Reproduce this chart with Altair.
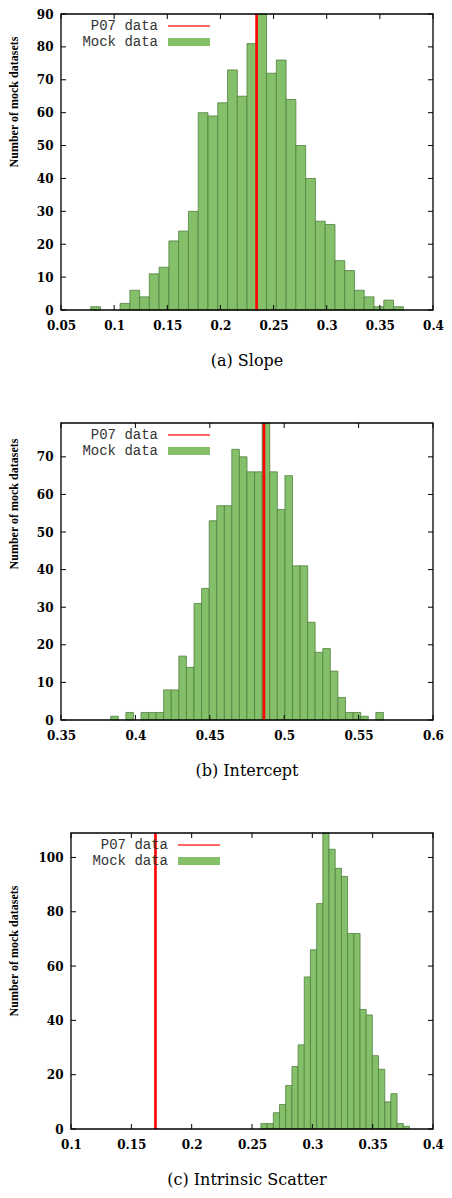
import altair as alt
import pandas as pd

# ---------------- data ----------------
# (a) Slope : left edges of histogram bins and counts
slope_lo = [0.0780, 0.1056, 0.1148, 0.1240, 0.1331, 0.1423, 0.1515, 0.1607,
            0.1699, 0.1791, 0.1883, 0.1975, 0.2067, 0.2159, 0.2250, 0.2342,
            0.2434, 0.2526, 0.2618, 0.2710, 0.2802, 0.2894, 0.2986, 0.3078,
            0.3169, 0.3261, 0.3353, 0.3445, 0.3537, 0.3629]
slope_n = [1, 2, 6, 4, 11, 13, 21, 24, 30, 60, 59, 63, 73, 65, 81, 90,
           72, 76, 64, 50, 40, 27, 26, 15, 12, 6, 4, 1, 3, 1]
slope_binw = 0.00919
slope_p07 = 0.234
slope_xticks = [0.05, 0.1, 0.15, 0.2, 0.25, 0.3, 0.35, 0.4]
slope_yticks = [0, 10, 20, 30, 40, 50, 60, 70, 80, 90]

# (b) Intercept
icpt_lo = [0.3834, 0.3936, 0.4038, 0.4089, 0.4139, 0.4190, 0.4241, 0.4292,
           0.4343, 0.4394, 0.4445, 0.4496, 0.4547, 0.4598, 0.4648, 0.4699,
           0.4750, 0.4801, 0.4852, 0.4903, 0.4954, 0.5005, 0.5056, 0.5107,
           0.5157, 0.5208, 0.5259, 0.5310, 0.5361, 0.5412, 0.5463, 0.5514,
           0.5616]
icpt_n = [1, 2, 2, 2, 2, 8, 8, 17, 14, 31, 35, 53, 57, 57, 72, 70, 66, 66,
          79, 66, 56, 65, 41, 41, 26, 18, 19, 13, 6, 2, 2, 1, 2]
icpt_binw = 0.00509
icpt_p07 = 0.4864
icpt_xticks = [0.35, 0.4, 0.45, 0.5, 0.55, 0.6]
icpt_yticks = [0, 10, 20, 30, 40, 50, 60, 70]

# (c) Intrinsic scatter
scat_lo = [0.2574, 0.2625, 0.2677, 0.2728, 0.2779, 0.2831, 0.2882, 0.2933,
           0.2984, 0.3036, 0.3087, 0.3138, 0.3190, 0.3241, 0.3292, 0.3344,
           0.3395, 0.3446, 0.3497, 0.3549, 0.3600, 0.3651, 0.3703, 0.3754]
scat_n = [2, 2, 6, 9, 16, 23, 31, 56, 66, 83, 109, 103, 96, 93, 72, 72,
          44, 42, 27, 22, 10, 13, 2, 1]
scat_binw = 0.00513
scat_p07 = 0.170
scat_xticks = [0.1, 0.15, 0.2, 0.25, 0.3, 0.35, 0.4]
scat_yticks = [0, 20, 40, 60, 80, 100]

legend_labels = ["P07 data", "Mock data"]
captions = ["(a) Slope", "(b) Intercept", "(c) Intrinsic Scatter"]
ytitle = "Number of mock datasets"

GREEN = "#84c06a"
EDGE = "#52803f"
RED = "#ff0000"


def panel(lo, n, binw, p07, xdom, xticks, ydom, yticks, W, H,
          title_y, caption, inset=0):
    # inset: blank strip (px) left of this panel's frame, so that its frame
    # starts further right than the other panels, as in the reference
    xs = alt.Scale(domain=xdom, nice=False, zero=False, range=[inset, W])
    ys = alt.Scale(domain=ydom, nice=False, zero=True)
    xaxis = alt.Axis(values=xticks, format="~g", ticks=False, domain=False,
                     grid=False, labelFont="DejaVu Serif", labelFontWeight="bold",
                     labelFontSize=12, labelColor="black", labelPadding=10,
                     labelFlush=False, title=None)
    yaxis = alt.Axis(values=yticks, ticks=False, domain=False, grid=False,
                     labelFont="DejaVu Serif", labelFontWeight="bold",
                     labelFontSize=12, labelColor="black", labelPadding=8,
                     offset=-inset, title=None)

    hist = pd.DataFrame({"lo": lo, "n": n})
    bars = (
        alt.Chart(hist)
        .transform_calculate(hi=f"datum.lo + {binw}")
        .mark_rect(fill=GREEN, stroke=EDGE, strokeWidth=0.8, opacity=1)
        .encode(
            x=alt.X("lo:Q", scale=xs, axis=xaxis),
            x2="hi:Q",
            y=alt.Y("n:Q", scale=ys, axis=yaxis),
            y2=alt.Y2(datum=0),
        )
    )

    rule = (
        alt.Chart(pd.DataFrame({"p": [p07]}))
        .mark_rule(color=RED, strokeWidth=2.6)
        .encode(x=alt.X("p:Q", scale=xs, axis=xaxis))
    )

    one = pd.DataFrame({"k": [0]})
    frame = alt.Chart(one).mark_rect(
        fillOpacity=0, stroke="black", strokeWidth=1.3).encode(
        x=alt.value(inset), x2=alt.value(W), y=alt.value(0), y2=alt.value(H))

    xt = pd.DataFrame({"t": xticks})
    yt = pd.DataFrame({"v": yticks})
    tick_style = dict(color="black", strokeWidth=1)
    xtick_top = alt.Chart(xt).mark_rule(**tick_style).encode(
        x=alt.X("t:Q", scale=xs, axis=xaxis), y=alt.value(0), y2=alt.value(5))
    xtick_bot = alt.Chart(xt).mark_rule(**tick_style).encode(
        x=alt.X("t:Q", scale=xs, axis=xaxis), y=alt.value(H - 5), y2=alt.value(H))
    ytick_l = alt.Chart(yt).mark_rule(**tick_style).encode(
        y=alt.Y("v:Q", scale=ys, axis=yaxis), x=alt.value(inset),
        x2=alt.value(inset + 5))
    ytick_r = alt.Chart(yt).mark_rule(**tick_style).encode(
        y=alt.Y("v:Q", scale=ys, axis=yaxis), x=alt.value(W - 5), x2=alt.value(W))

    ytitle_mark = alt.Chart(one).mark_text(
        angle=270, align="center", baseline="middle", font="Liberation Serif",
        fontWeight="bold", fontSize=12, color="black").encode(
        x=alt.value(-47), y=alt.value(title_y), text=alt.value(ytitle))
    leg_txt1 = alt.Chart(one).mark_text(
        align="right", baseline="middle", font="Liberation Mono", fontSize=14,
        color="#333333").encode(x=alt.value(inset + 97), y=alt.value(12),
                                text=alt.value(legend_labels[0]))
    leg_txt2 = alt.Chart(one).mark_text(
        align="right", baseline="middle", font="Liberation Mono", fontSize=14,
        color="#333333").encode(x=alt.value(inset + 97), y=alt.value(28),
                                text=alt.value(legend_labels[1]))
    leg_line = alt.Chart(one).mark_rule(color="#ff3333", strokeWidth=1.5).encode(
        x=alt.value(inset + 107), x2=alt.value(inset + 149), y=alt.value(12))
    leg_box = alt.Chart(one).mark_rect(fill=GREEN).encode(
        x=alt.value(inset + 107), x2=alt.value(inset + 149),
        y=alt.value(24), y2=alt.value(32))

    return alt.layer(
        bars, rule, frame, xtick_top, xtick_bot, ytick_l, ytick_r,
        ytitle_mark, leg_txt1, leg_txt2, leg_line, leg_box,
    ).properties(
        width=W, height=H,
        view=alt.ViewBackground(strokeOpacity=0),
        title=alt.TitleParams(caption, orient="bottom", font="DejaVu Serif",
                              fontSize=16, fontWeight="normal", color="black",
                              offset=22, anchor="middle"),
    )


p1 = panel(slope_lo, slope_n, slope_binw, slope_p07, [0.05, 0.4], slope_xticks,
           [0, 90], slope_yticks, 372, 296, 88, captions[0])
p2 = panel(icpt_lo, icpt_n, icpt_binw, icpt_p07, [0.35, 0.6], icpt_xticks,
           [0, 79], icpt_yticks, 372, 297, 81, captions[1])
p3 = panel(scat_lo, scat_n, scat_binw, scat_p07, [0.1, 0.4], scat_xticks,
           [0, 109], scat_yticks, 372, 296, 118, captions[2], inset=10)

chart = (
    alt.vconcat(p1, p2, p3, spacing=52)
    .properties(padding={"left": 0, "top": 0, "right": 0, "bottom": 0})
)

chart.save("out.html", embed_options={"renderer": "svg", "actions": False})
